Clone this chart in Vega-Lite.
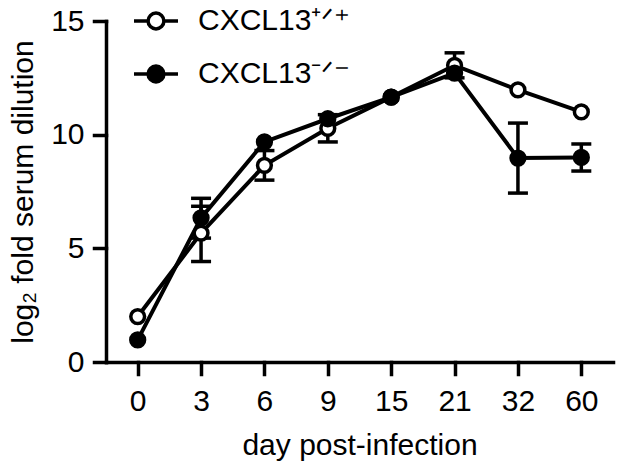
{
  "$schema": "https://vega.github.io/schema/vega-lite/v6.json",
  "width": 507,
  "height": 341,
  "autosize": {"type": "none"},
  "padding": {"left": 106, "top": 21, "right": 11, "bottom": 109},
  "background": "white",
  "config": {
    "view": {"stroke": null},
    "font": "Liberation Sans",
    "axis": {
      "grid": false,
      "domainColor": "black",
      "domainWidth": 3.5,
      "domainCap": "square",
      "tickColor": "black",
      "tickWidth": 3.5,
      "tickSize": 12,
      "tickCap": "square",
      "labelFont": "Liberation Sans",
      "labelFontSize": 30,
      "labelColor": "black",
      "titleFont": "Liberation Sans",
      "titleFontSize": 30,
      "titleFontWeight": "normal",
      "titleColor": "black"
    }
  },
  "data": {
    "values": [
      {"day": "0", "genotype": "CXCL13⁺ᐟ⁺", "mean": 2.0, "lo": null, "hi": null},
      {"day": "3", "genotype": "CXCL13⁺ᐟ⁺", "mean": 5.67, "lo": 4.42, "hi": 6.85},
      {"day": "6", "genotype": "CXCL13⁺ᐟ⁺", "mean": 8.65, "lo": 8.0, "hi": 9.3},
      {"day": "9", "genotype": "CXCL13⁺ᐟ⁺", "mean": 10.28, "lo": 9.68, "hi": 10.88},
      {"day": "15", "genotype": "CXCL13⁺ᐟ⁺", "mean": 11.65, "lo": null, "hi": null},
      {"day": "21", "genotype": "CXCL13⁺ᐟ⁺", "mean": 13.05, "lo": 12.5, "hi": 13.6},
      {"day": "32", "genotype": "CXCL13⁺ᐟ⁺", "mean": 11.97, "lo": null, "hi": null},
      {"day": "60", "genotype": "CXCL13⁺ᐟ⁺", "mean": 11.0, "lo": null, "hi": null},
      {"day": "0", "genotype": "CXCL13⁻ᐟ⁻", "mean": 0.97, "lo": null, "hi": null},
      {"day": "3", "genotype": "CXCL13⁻ᐟ⁻", "mean": 6.34, "lo": 5.45, "hi": 7.2},
      {"day": "6", "genotype": "CXCL13⁻ᐟ⁻", "mean": 9.68, "lo": null, "hi": null},
      {"day": "9", "genotype": "CXCL13⁻ᐟ⁻", "mean": 10.7, "lo": null, "hi": null},
      {"day": "15", "genotype": "CXCL13⁻ᐟ⁻", "mean": 11.65, "lo": null, "hi": null},
      {"day": "21", "genotype": "CXCL13⁻ᐟ⁻", "mean": 12.71, "lo": null, "hi": null},
      {"day": "32", "genotype": "CXCL13⁻ᐟ⁻", "mean": 8.97, "lo": 7.43, "hi": 10.51},
      {"day": "60", "genotype": "CXCL13⁻ᐟ⁻", "mean": 9.0, "lo": 8.4, "hi": 9.59}
    ]
  },
  "encoding": {
    "x": {
      "field": "day",
      "type": "ordinal",
      "sort": null,
      "scale": {"type": "point", "padding": 0.5, "domain": ["0", "3", "6", "9", "15", "21", "32", "60"]},
      "axis": {"title": "day post-infection", "labelAngle": 0, "labelPadding": 12, "titlePadding": 14}
    }
  },
  "layer": [
    {
      "transform": [{"filter": "isValid(datum.lo)"}],
      "mark": {"type": "rule", "color": "black", "strokeWidth": 3.5, "opacity": 1},
      "encoding": {
        "y": {"field": "lo", "type": "quantitative", "scale": {"domain": [0, 15], "nice": false}},
        "y2": {"field": "hi"}
      }
    },
    {
      "transform": [{"filter": "isValid(datum.lo)"}],
      "mark": {"type": "tick", "color": "black", "size": 20, "thickness": 3.5, "opacity": 1},
      "encoding": {"y": {"field": "lo", "type": "quantitative"}}
    },
    {
      "transform": [{"filter": "isValid(datum.hi)"}],
      "mark": {"type": "tick", "color": "black", "size": 20, "thickness": 3.5, "opacity": 1},
      "encoding": {"y": {"field": "hi", "type": "quantitative"}}
    },
    {
      "mark": {"type": "line", "color": "black", "strokeWidth": 4},
      "encoding": {
        "y": {"field": "mean", "type": "quantitative"},
        "detail": {"field": "genotype", "type": "nominal"}
      }
    },
    {
      "mark": {"type": "point", "shape": "circle", "size": 190, "stroke": "black", "strokeWidth": 3.5, "opacity": 1, "filled": false},
      "encoding": {
        "y": {
          "field": "mean",
          "type": "quantitative",
          "axis": {"title": "log₂ fold serum dilution", "values": [0, 5, 10, 15], "labelPadding": 10, "titlePadding": 12}
        },
        "fill": {
          "field": "genotype",
          "type": "nominal",
          "sort": null,
          "scale": {"domain": ["CXCL13⁺ᐟ⁺", "CXCL13⁻ᐟ⁻"], "range": ["white", "black"]},
          "legend": {
            "orient": "none",
            "legendX": 26,
            "legendY": -24,
            "title": null,
            "padding": 0,
            "symbolType": "M-1,0H-0.36M0.36,0H1M-0.36,0A0.36,0.36 0 1,0 0.36,0A0.36,0.36 0 1,0 -0.36,0Z",
            "symbolSize": 1936,
            "symbolStrokeColor": "black",
            "symbolStrokeWidth": 3.5,
            "symbolOpacity": 1,
            "labelFont": "Liberation Sans",
            "labelFontSize": 30,
            "labelColor": "black",
            "labelOffset": 18,
            "rowPadding": 14
          }
        }
      }
    }
  ]
}
